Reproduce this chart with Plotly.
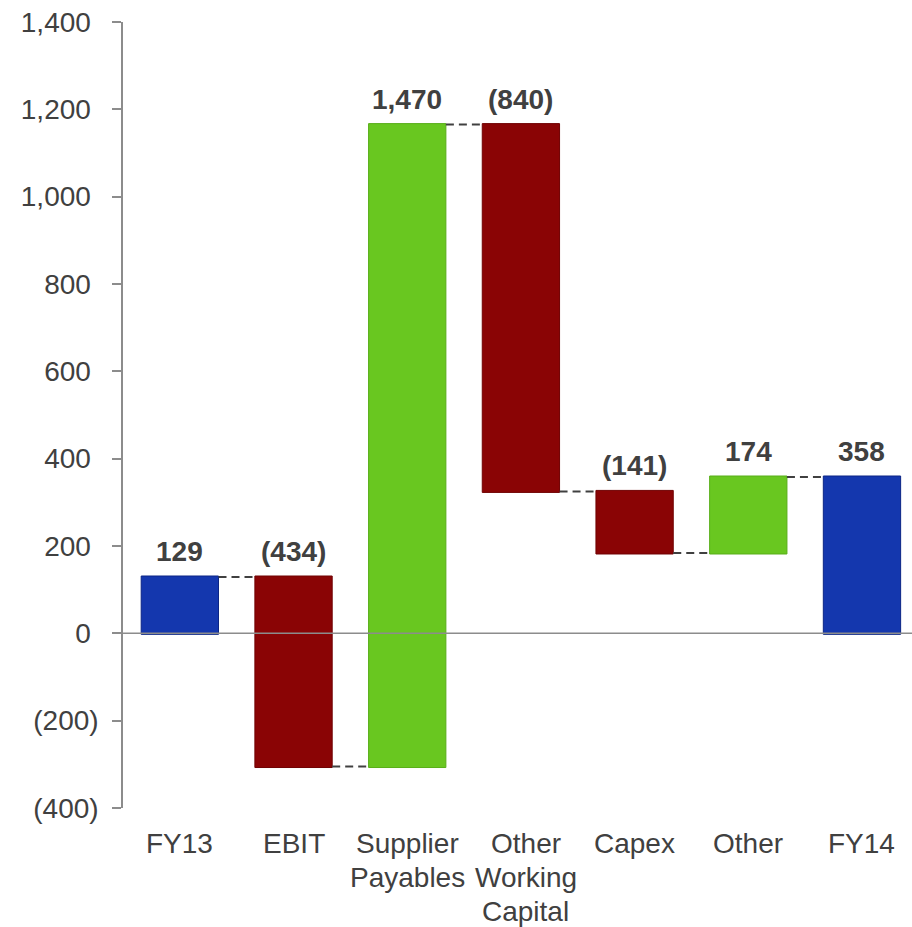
import plotly.graph_objects as go

# Cash-flow bridge from FY13 to FY14
categories = ["FY13", "EBIT", "Supplier<br>Payables", "Other<br>Working<br>Capital",
              "Capex", "Other", "FY14"]
changes = [129, -434, 1470, -840, -141, 174, 358]
measures = ["absolute", "relative", "relative", "relative", "relative", "relative", "total"]
value_labels = ["129", "(434)", "1,470", "(840)", "(141)", "174", "358"]

y_ticks = [-400, -200, 0, 200, 400, 600, 800, 1000, 1200, 1400]
y_tick_labels = ["(400)", "(200)", "0\u00a0", "200\u00a0", "400\u00a0", "600\u00a0",
                 "800\u00a0", "1,000\u00a0", "1,200\u00a0", "1,400\u00a0"]

BLUE = "#1437AE"
RED = "#8A0405"
GREEN = "#69C720"
TEXT = "#404040"
AXIS = "#8C8C8C"
FONT = "Liberation Sans, Arial, sans-serif"
FS = 28
LINE_STEP = 34  # px between lines of a category label

x_pos = list(range(len(categories)))

fig = go.Figure()
fig.add_trace(go.Waterfall(
    x=x_pos,
    y=changes,
    measure=measures,
    increasing=dict(marker=dict(color=GREEN, line=dict(color="#58AE18", width=1))),
    decreasing=dict(marker=dict(color=RED, line=dict(color="#700203", width=1))),
    totals=dict(marker=dict(color=BLUE, line=dict(color="#0B2585", width=1))),
    connector=dict(mode="between", line=dict(color=TEXT, width=2, dash="8px,5px")),
    textinfo="none",
    hoverinfo="skip",
    showlegend=False,
))

# Value labels sit above the top of each bar
running = 0
for i, (m, v, lab) in enumerate(zip(measures, changes, value_labels)):
    if m == "absolute":
        start, end = 0, v
    elif m == "total":
        start, end = 0, running
    else:
        start, end = running, running + v
    running = end
    fig.add_annotation(
        x=i, y=max(start, end), text=f"<b>{lab}</b>", showarrow=False,
        yanchor="bottom", yshift=8,
        font=dict(family=FONT, size=FS, color=TEXT),
    )

# Category labels under the plot, one line at a time for tight line spacing
for i, cat in enumerate(categories):
    lines = cat.split("<br>")
    nudge = 5 if len(lines) > 2 else 0
    for k, line in enumerate(lines):
        fig.add_annotation(
            x=i, xref="x", y=0, yref="paper", text=line, showarrow=False,
            yanchor="middle", yshift=-35 - LINE_STEP * k, xshift=nudge,
            font=dict(family=FONT, size=FS, color=TEXT),
        )

# Baseline at zero drawn over the bars
fig.add_shape(type="line", xref="paper", x0=0, x1=1, yref="y", y0=0, y1=0,
              line=dict(color=AXIS, width=1.5), layer="above")

fig.update_layout(
    width=912, height=927,
    margin=dict(l=123, r=0, t=22, b=119),
    paper_bgcolor="white", plot_bgcolor="white",
    waterfallgap=0.32,
    font=dict(family=FONT, size=FS, color=TEXT),
    xaxis=dict(
        range=[-0.5, 6.44], showticklabels=False,
        showgrid=False, zeroline=False, showline=False, ticks="",
        automargin=False,
    ),
    yaxis=dict(
        range=[-400, 1400], tickvals=y_ticks, ticktext=y_tick_labels,
        showgrid=False, zeroline=False, showline=True, linecolor=AXIS, linewidth=1.5,
        ticks="outside", ticklen=9, tickcolor=AXIS, tickwidth=1.5,
        ticklabelstandoff=8, tickfont=dict(size=FS, color=TEXT),
        automargin=False,
    ),
)

fig.write_html("out.html")
